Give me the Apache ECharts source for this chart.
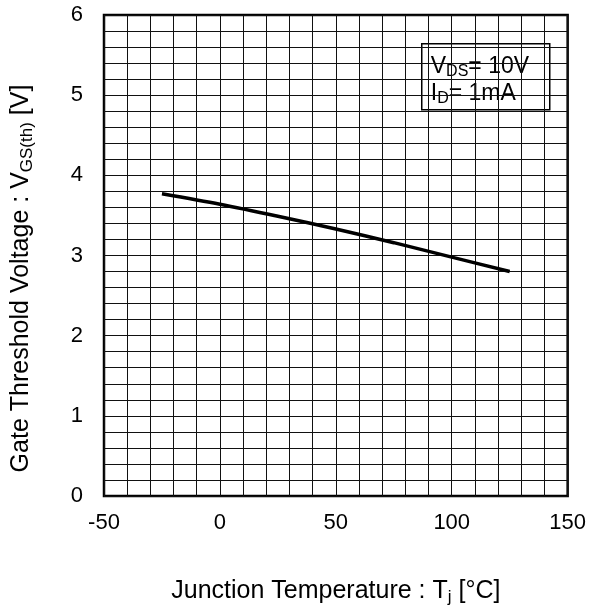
<!DOCTYPE html>
<html><head><meta charset="utf-8">
<script src="https://cdn.jsdelivr.net/npm/echarts@6/dist/echarts.min.js"></script>
<style>html,body{margin:0;padding:0;background:#fff}#c{width:589px;height:611px}</style>
</head><body><div id="c"></div>
<script>
const temperatures = [-25, 0, 25, 50, 75, 100, 125];
const thresholdVoltage = [3.77, 3.64, 3.49, 3.33, 3.16, 2.98, 2.80];
const xTicks = [-50, 0, 50, 100, 150];
const yTicks = [0, 1, 2, 3, 4, 5, 6];

const FONT = 'Liberation Sans, Arial, sans-serif';
const titleRich = {
  n: {fontFamily: FONT, fontSize: 25, color: '#000', lineHeight: 30},
  s: {fontFamily: FONT, fontSize: 17, color: '#000', lineHeight: 12, verticalAlign: 'bottom'}
};
const chart = echarts.init(document.getElementById('c'), null, {renderer: 'canvas'});
chart.setOption({
  animation: false,
  backgroundColor: '#fff',
  grid: {left: 104, top: 15, right: 17, bottom: 114, show: true, borderColor: '#000', borderWidth: 2.5, backgroundColor: 'transparent'},
  xAxis: {
    type: 'value', min: xTicks[0], max: xTicks[xTicks.length-1], interval: 50,
    axisLine: {show: false}, axisTick: {show: false},
    axisLabel: {fontFamily: FONT, fontSize: 22, color: '#000', margin: 16},
    splitLine: {show: true, lineStyle: {color: '#111', width: 1}},
    minorTick: {show: false, splitNumber: 5},
    minorSplitLine: {show: true, lineStyle: {color: '#111', width: 1}},
    name: '{n|Junction Temperature : T}{s|j}{n| [°C]}',
    nameLocation: 'middle', nameGap: 80,
    nameTextStyle: {fontFamily: FONT, color: '#000', rich: titleRich}
  },
  yAxis: {
    type: 'value', min: yTicks[0], max: yTicks[yTicks.length-1], interval: 1,
    axisLine: {show: false}, axisTick: {show: false},
    axisLabel: {fontFamily: FONT, fontSize: 22, color: '#000', margin: 21},
    splitLine: {show: true, lineStyle: {color: '#111', width: 1}},
    minorTick: {show: false, splitNumber: 5},
    minorSplitLine: {show: true, lineStyle: {color: '#111', width: 1}},
    name: '{n|Gate Threshold Voltage : V}{s|GS(th)}{n| [V]}',
    nameLocation: 'middle', nameGap: 68, nameRotate: 90,
    nameTextStyle: {fontFamily: FONT, color: '#000', padding: [0, 46, 0, 0], rich: titleRich}
  },
  series: [{
    type: 'line', data: temperatures.map((t, i) => [t, thresholdVoltage[i]]),
    smooth: 0.3, showSymbol: false, symbol: 'none',
    lineStyle: {color: '#000', width: 3.5}
  }],
  graphic: [{
    type: 'group', left: 421, top: 43, z: 100,
    children: [
      {type: 'rect', shape: {x: 0, y: 0, width: 128, height: 66}, style: {fill: '#fff', stroke: '#000', lineWidth: 1.5}},
      {type: 'text', x: 9, y: 9, style: {
        text: '{n|V}{s|DS}{n|= 10V}\n{n|I}{s|D}{n|= 1mA}',
        rich: {
          n: {fontFamily: FONT, fontSize: 23, color: '#000', lineHeight: 27},
          s: {fontFamily: FONT, fontSize: 16, color: '#000', lineHeight: 8, verticalAlign: 'bottom'}
        }
      }}
    ]
  }]
});
</script></body></html>
